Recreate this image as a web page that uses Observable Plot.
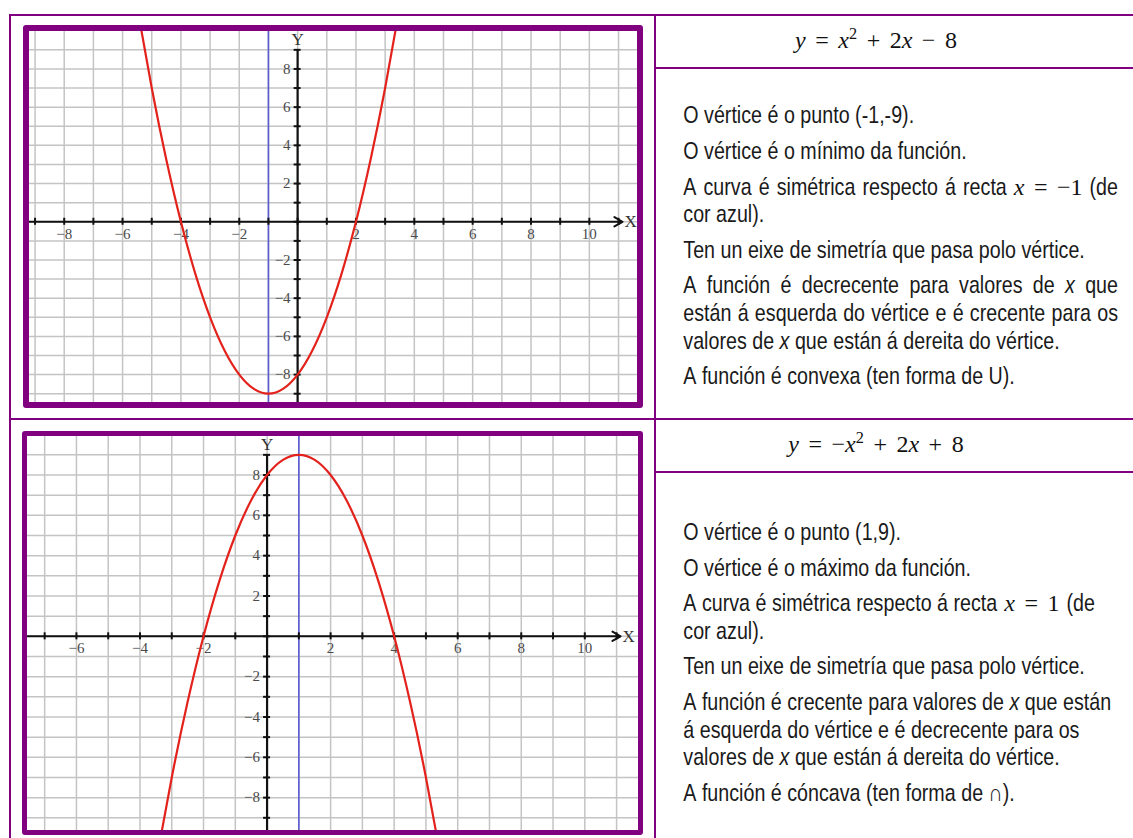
<!DOCTYPE html>
<html><head><meta charset="utf-8">
<script src="https://cdn.jsdelivr.net/npm/d3@7"></script>
<script src="https://cdn.jsdelivr.net/npm/@observablehq/plot@0.6"></script>
<style>
html,body{margin:0;padding:0;background:#fff;}
#page{position:relative;width:1133px;height:838px;overflow:hidden;background:#fff;}
.hl,.vl{position:absolute;background:#800080;}
.frame{position:absolute;box-sizing:border-box;border:6px solid #800080;border-radius:3px;overflow:hidden;background:#fff;}
.frame svg{display:block;}
#txt{position:absolute;left:0;top:0;pointer-events:none;}
</style></head><body>
<div id="page">
 <div class="hl" style="left:9px;top:14px;width:1124px;height:2px"></div>
 <div class="vl" style="left:9px;top:14px;width:2px;height:824px"></div>
 <div class="vl" style="left:654px;top:14px;width:2px;height:824px"></div>
 <div class="hl" style="left:9px;top:418px;width:1124px;height:2px"></div>
 <div class="hl" style="left:655px;top:67px;width:478px;height:2px"></div>
 <div class="hl" style="left:655px;top:471px;width:478px;height:2px"></div>
 <div class="frame" id="f1" style="left:23px;top:25px;width:620px;height:383px"></div>
 <div class="frame" id="f2" style="left:22px;top:431px;width:621px;height:404px;border-width:5px"></div>
 <svg id="txt" width="1133" height="838"></svg>
</div>
<script>
// ---------- DATA ----------
// Chart 1: y = x^2 + 2x - 8
const curve1X = [-5.5,-5,-4.5,-4,-3.5,-3,-2.5,-2,-1.5,-1,-0.5,0,0.5,1,1.5,2,2.5,3,3.5];
const curve1Y = [11.25,7,3.25,0,-2.75,-5,-6.75,-8,-8.75,-9,-8.75,-8,-6.75,-5,-2.75,0,3.25,7,11.25];
const symmetry1 = [-1];
const xDomain1 = [-9.19, 11.65];
const yDomain1 = [-9.46, 9.96];
const xTicks1 = [-9,-8,-7,-6,-5,-4,-3,-2,-1,0,1,2,3,4,5,6,7,8,9,10,11];
const yTicks1 = [-9,-8,-7,-6,-5,-4,-3,-2,-1,0,1,2,3,4,5,6,7,8,9];
const xLabels1 = [-8,-6,-4,-2,2,4,6,8,10];
const yLabels1 = [-8,-6,-4,-2,2,4,6,8];

// Chart 2: y = -x^2 + 2x + 8
const curve2X = [-3.5,-3,-2.5,-2,-1.5,-1,-0.5,0,0.5,1,1.5,2,2.5,3,3.5,4,4.5,5,5.5];
const curve2Y = [-11.25,-7,-3.25,0,2.75,5,6.75,8,8.75,9,8.75,8,6.75,5,2.75,0,-3.25,-7,-11.25];
const symmetry2 = [1];
const xDomain2 = [-7.54, 11.69];
const yDomain2 = [-9.63, 9.91];
const xTicks2 = [-7,-6,-5,-4,-3,-2,-1,0,1,2,3,4,5,6,7,8,9,10,11];
const yTicks2 = [-9,-8,-7,-6,-5,-4,-3,-2,-1,0,1,2,3,4,5,6,7,8,9];
const xLabels2 = [-6,-4,-2,2,4,6,8,10];
const yLabels2 = [-8,-6,-4,-2,2,4,6,8];

const axisTop = 9;
const axisEnd = 11;

// Text column
const equation1 = "y = x^2 + 2x − 8";
const equation2 = "y = −x^2 + 2x + 8";
const text1 = [
 ["O vértice é o punto (-1,-9)."],
 ["O vértice é o mínimo da función."],
 ["A curva é simétrica respecto á recta $x = −1$ (de", "cor azul)."],
 ["Ten un eixe de simetría que pasa polo vértice."],
 ["A función é decrecente para valores de *x* que", "están á esquerda do vértice e é crecente para os", "valores de *x* que están á dereita do vértice."],
 ["A función é convexa (ten forma de U)."]
];
const text2 = [
 ["O vértice é o punto (1,9)."],
 ["O vértice é o máximo da función."],
 ["A curva é simétrica respecto á recta $x = 1$ (de", "cor azul)."],
 ["Ten un eixe de simetría que pasa polo vértice."],
 ["A función é crecente para valores de *x* que están", "á esquerda do vértice e é decrecente para os", "valores de *x* que están á dereita do vértice."],
 ["A función é cóncava (ten forma de ∩)."]
];
const justified1 = ["2-0","4-0","4-1"];
const justified2 = [];

// ---------- CHARTS ----------
const fmt = d3.format("");
const SERIF = "'Liberation Serif','Times New Roman',serif";
function chart(o){
  const pts = o.cx.map((x,i)=>({x, y:o.cy[i]}));
  return Plot.plot({
    width:o.w, height:o.h, margin:0,
    x:{domain:o.xd, axis:null}, y:{domain:o.yd, axis:null},
    style:{background:"#fff", overflow:"hidden"},
    marks:[
      Plot.ruleX(o.xt, {stroke:"#c4c4c4", strokeWidth:1.5}),
      Plot.ruleY(o.yt, {stroke:"#c4c4c4", strokeWidth:1.5}),
      Plot.ruleX(o.sym, {stroke:"#5a5ad2", strokeWidth:1.6}),
      Plot.arrow([0], {x1:()=>o.xd[0], y1:()=>0, x2:()=>axisEnd, y2:()=>0, stroke:"#111", strokeWidth:2, headLength:7, insetEnd:-4}),
      Plot.ruleX([0], {y1:()=>axisTop, y2:()=>o.yd[0], stroke:"#111", strokeWidth:2.2}),
      Plot.ruleX(o.xt, {y1:()=>0, y2:()=>0, insetTop:-3.5, insetBottom:-3.5, stroke:"#111", strokeWidth:2}),
      Plot.ruleY(o.yt, {x1:()=>0, x2:()=>0, insetLeft:-3.5, insetRight:-3.5, stroke:"#111", strokeWidth:2}),
      Plot.text(o.xl, {x:d=>d, y:()=>0, text:d=>fmt(d), dy:12, fontFamily:SERIF, fontSize:15, fill:"#4a4a4a"}),
      Plot.text(o.yl, {x:()=>0, y:d=>d, text:d=>fmt(d), dx:-7, textAnchor:"end", fontFamily:SERIF, fontSize:15, fill:"#4a4a4a"}),
      Plot.text(["Y"], {x:()=>0, y:()=>axisTop, text:d=>d, dy:-10, fontFamily:SERIF, fontSize:17, fill:"#333"}),
      Plot.text(["X"], {x:()=>axisEnd, y:()=>0, text:d=>d, dx:12, fontFamily:SERIF, fontSize:17, fill:"#333"}),
      Plot.line(pts, {x:"x", y:"y", curve:"natural", stroke:"#e3221c", strokeWidth:2.2, clip:true})
    ]
  });
}
document.getElementById("f1").appendChild(chart({w:608,h:371,xd:xDomain1,yd:yDomain1,xt:xTicks1,yt:yTicks1,xl:xLabels1,yl:yLabels1,cx:curve1X,cy:curve1Y,sym:symmetry1}));
document.getElementById("f2").appendChild(chart({w:611,h:394,xd:xDomain2,yd:yDomain2,xt:xTicks2,yt:yTicks2,xl:xLabels2,yl:yLabels2,cx:curve2X,cy:curve2Y,sym:symmetry2}));

// ---------- TEXT COLUMN ----------
const NS = "http://www.w3.org/2000/svg";
const SANS = "'Liberation Sans',Arial,sans-serif";
const FS = 24, NARROW = 0.82, SPACE = 0.278*FS*NARROW;
const svgT = document.getElementById("txt");
function mk(tag, attrs, parent){ const e=document.createElementNS(NS,tag); for(const k in attrs) e.setAttribute(k, attrs[k]); parent.appendChild(e); return e; }
function mathTok(parent, tok, y, size){
  const t = mk("text", {x:0, y:0, "font-family":SERIF, "font-size":size, fill:"#111"}, parent);
  let i=0, raised=false;
  while(i<tok.length){
    const ch = tok[i];
    if(ch==="^"){ const s = mk("tspan", {"font-size":size*0.68, dy:-size*0.38}, t); s.textContent = tok[i+1]; i+=2; raised=true; continue; }
    const sp = mk("tspan", {}, t);
    if(raised){ sp.setAttribute("dy", size*0.38); raised=false; }
    if(/[a-z]/.test(ch)) sp.setAttribute("font-style","italic");
    sp.textContent = ch; i++;
  }
  return {el:t, w:t.getComputedTextLength(), sx:1};
}
function sansWord(parent, w, y){
  let italic=false;
  if(w.length>2 && w.startsWith("*") && w.endsWith("*")){ italic=true; w=w.slice(1,-1); }
  const t = mk("text", {x:0, y:0, "font-family":SANS, "font-size":FS, fill:"#1a1a1a"}, parent);
  if(italic) t.setAttribute("font-style","italic");
  t.textContent = w;
  return {el:t, w:t.getComputedTextLength()*NARROW, sx:NARROW};
}
function layoutLine(line, x0, y, justifyTo, mathSize){
  const g = mk("g", {}, svgT);
  const toks = [];
  line.split("$").forEach((p,k)=>p.trim().split(/\s+/).filter(Boolean).forEach(w=>toks.push({w, m:k%2===1})));
  const items = toks.map(tk => ({...tk, ...(tk.m ? mathTok(g, tk.w, y, mathSize||FS) : sansWord(g, tk.w, y))}));
  const gaps = items.map((it,i)=> i===0 ? 0 : (!it.m && !items[i-1].m ? SPACE : (it.m && items[i-1].m ? 9.5 : 7)));
  let total = items.reduce((s,it)=>s+it.w,0) + gaps.reduce((s,v)=>s+v,0);
  if(justifyTo!=null){
    const idx = items.map((it,i)=> i>0 && !it.m && !items[i-1].m ? i : -1).filter(i=>i>0);
    const extra = (justifyTo - x0) - total;
    idx.forEach(i=>gaps[i]+=extra/idx.length);
  }
  let x = x0;
  items.forEach((it,i)=>{
    x += gaps[i];
    it.el.setAttribute("transform", `translate(${x},${y})` + (it.sx!==1 ? ` scale(${it.sx},1)` : ""));
    x += it.w;
  });
  return {g, width: x - x0};
}
function equation(eq, cx, y){
  const r = layoutLine("$"+eq+"$", 0, y, null, 24);
  r.g.setAttribute("transform", `translate(${cx - r.width/2},0)`);
}
function block(paras, justified, firstBase){
  let y = firstBase;
  paras.forEach((lines,p)=>{
    if(p>0) y += 35.6;
    lines.forEach((ln,l)=>{
      if(l>0) y += 27.6;
      layoutLine(ln, 683.3, y, justified.includes(p+"-"+l) ? 1118 : null);
    });
  });
}
equation(equation1, 876, 48.3);
equation(equation2, 876, 451.7);
block(text1, justified1, 123.3);
block(text2, justified2, 540);
</script>
</body></html>
